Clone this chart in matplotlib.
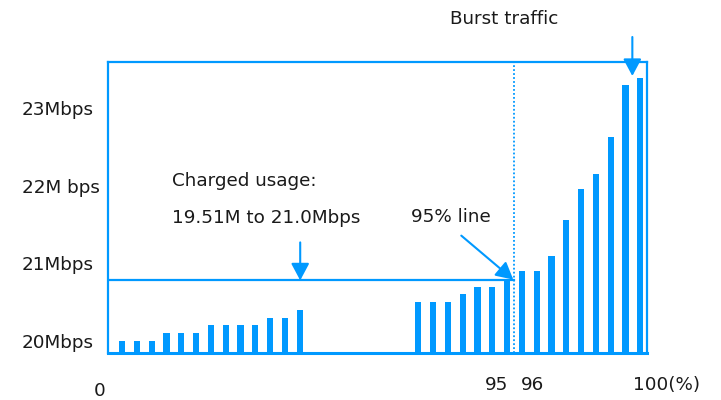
import numpy as np
import matplotlib
matplotlib.use("Agg")
import matplotlib.pyplot as plt

BLUE = "#0099ff"

# bar heights (Mbps), two groups with an empty gap between them
group1 = [20.0, 20.0, 20.0, 20.1, 20.1, 20.1, 20.2, 20.2, 20.2, 20.2, 20.3, 20.3, 20.4]
group2 = [20.5, 20.5, 20.5, 20.6, 20.7, 20.7, 20.8, 20.9, 20.9, 21.1,
          21.56, 21.95, 22.15, 22.62, 23.3, 23.39]
gap = 7
line95 = 20.78          # charged level (95% line)
pos95 = 26.47           # dotted vertical line position

ytick_vals = [20, 21, 22, 23]
ytick_labels = ["20Mbps", "21Mbps", "22M bps", "23Mbps"]

xlabels = ["0", "95", "96", "100(%)"]
xlabel_px = [100, 497, 533, 667]
xlabel_py = [391, 385, 385, 385]

W, H = 721, 400
fig = plt.figure(figsize=(W / 100, H / 100), dpi=100)
ax = fig.add_axes([108 / W, 1 - 353 / H, (647 - 108) / W, (353 - 62) / H])

ymin, ymax = 19.846, 23.59
x1 = np.arange(len(group1))
x2 = np.arange(len(group2)) + len(group1) + gap
ax.bar(x1, np.array(group1) - ymin, bottom=ymin, width=0.42, color=BLUE)
ax.bar(x2, np.array(group2) - ymin, bottom=ymin, width=0.42, color=BLUE)

ax.set_xlim(-0.95, 35.45)
ax.set_ylim(ymin, ymax)

ax.plot([-0.95, pos95], [line95, line95], color=BLUE, lw=1.6)
ax.axvline(pos95, color=BLUE, lw=1.3, ls=(0, (1, 1.2)))

for s in ax.spines.values():
    s.set_color(BLUE)
    s.set_linewidth(1.6)
ax.spines["bottom"].set_linewidth(2.2)

FS = 13.2
ax.set_xticks([])
ax.set_yticks(ytick_vals)
ax.set_yticklabels(ytick_labels, ha="left", fontsize=FS, color="#1a1a1a")
ax.tick_params(axis="y", length=0, pad=62)

arrow = dict(arrowstyle="-|>,head_length=0.45,head_width=0.24", mutation_scale=23,
             color=BLUE, lw=1.5, shrinkA=0, shrinkB=0)
ax.annotate("", xy=(12.03, line95), xytext=(0, 38), textcoords="offset pixels",
            arrowprops=arrow)
ax.annotate("", xy=(26.42, 20.79), xytext=(-52, 44), textcoords="offset pixels",
            arrowprops=arrow)
ax.annotate("", xy=(34.46, 23.41), xytext=(0, 39), textcoords="offset pixels",
            arrowprops=arrow, annotation_clip=False)

txt = dict(fontsize=FS, color="#1a1a1a", va="center")
fig.text(504 / W, 1 - 19 / H, "Burst traffic", ha="center", **txt)
fig.text(172 / W, 1 - 181 / H, "Charged usage:", ha="left", **txt)
fig.text(172 / W, 1 - 218 / H, "19.51M to 21.0Mbps", ha="left", **txt)
fig.text(411 / W, 1 - 217 / H, "95% line", ha="left", **txt)
for lab, px, py in zip(xlabels, xlabel_px, xlabel_py):
    fig.text(px / W, 1 - py / H, lab, ha="center", **txt)

fig.savefig("out.png", dpi=100)
